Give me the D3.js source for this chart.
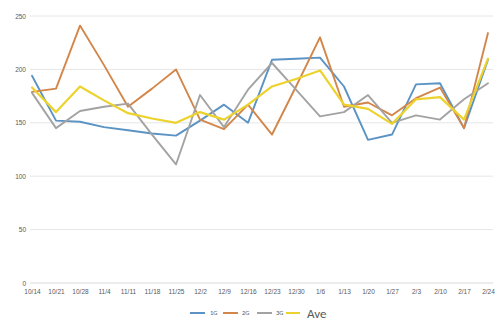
<!DOCTYPE html>
<html>
<head>
<meta charset="utf-8">
<script src="https://cdn.jsdelivr.net/npm/d3@7"></script>
<style>
  html, body { margin: 0; padding: 0; background: #fff; }
  svg { display: block; font-family: Calibri, Carlito, "Liberation Sans", "Open Sans", sans-serif; }
</style>
</head>
<body>
<svg id="chart" width="500" height="326"></svg>
<script>
// Weekly dates shown on the category axis
const categories = ["10/14","10/21","10/28","11/4","11/11","11/18","11/25","12/2","12/9","12/16",
                    "12/23","12/30","1/6","1/13","1/20","1/27","2/3","2/10","2/17","2/24"];
const yTicks = [0, 50, 100, 150, 200, 250];

const series1G  = [194,152,151,146,143,140,138,152,167,150,209,210,211,184,134,139,186,187,145,209];
const series2G  = [179,182,241,204,165,182,200,153,144,167,139,184,230,165,169,157,173,183,145,234];
const series3G  = [178,145,161,165,168,139,111,176,146,181,206,181,156,160,176,150,157,153,172,187];
const seriesAve = [183,160,184,171,159,154,150,160,153,167,184,191,199,167,163,149,172,174,153,210];

const seriesNames  = ["1G", "2G", "3G", "Ave"];
const seriesColors = ["#5b93c4", "#d3864a", "#a3a3a3", "#ecd22c"];
const seriesData   = [series1G, series2G, series3G, seriesAve];

const svg = d3.select("#chart");

const x = d3.scalePoint().domain(categories).range([32, 488]);
const y = d3.scaleLinear().domain([0, 250]).range([283, 16]);

// Horizontal gridlines
svg.append("g")
  .selectAll("line")
  .data(yTicks)
  .join("line")
  .attr("x1", 30).attr("x2", 493)
  .attr("y1", d => y(d)).attr("y2", d => y(d))
  .attr("stroke", d => d === 0 ? "#d9d9d9" : "#e6e6e6")
  .attr("stroke-width", 1);

// Y axis labels
const yAxis = d3.axisLeft(y).tickValues(yTicks).tickSize(0).tickPadding(0);
svg.append("g")
  .attr("transform", "translate(26,0)")
  .call(yAxis)
  .call(g => g.select(".domain").remove())
  .call(g => g.selectAll("text")
    .attr("fill", "#595959")
    .attr("font-size", "6.5px")
    .attr("font-family", "inherit"));

// X axis labels
const xAxis = d3.axisBottom(x).tickSize(0).tickPadding(0);
svg.append("g")
  .attr("transform", "translate(0,289)")
  .call(xAxis)
  .call(g => g.select(".domain").remove())
  .call(g => g.selectAll("text")
    .attr("fill", "#595959")
    .attr("font-size", "6.5px")
    .attr("font-family", "inherit"));

// Series lines
const line = d3.line()
  .x((d, i) => x(categories[i]))
  .y(d => y(d));

svg.append("g")
  .selectAll("path")
  .data(seriesData)
  .join("path")
  .attr("d", d => line(d))
  .attr("fill", "none")
  .attr("stroke", (d, i) => seriesColors[i])
  .attr("stroke-width", (d, i) => i === 3 ? 2.2 : 1.9)
  .attr("stroke-linejoin", "round")
  .attr("stroke-linecap", "round");

// Legend
const legendItems = [
  { name: "1G",  x1: 190, x2: 205, tx: 210, size: 6.5 },
  { name: "2G",  x1: 223, x2: 238, tx: 242, size: 6.5 },
  { name: "3G",  x1: 257, x2: 272, tx: 276, size: 6.5 },
  { name: "Ave", x1: 286, x2: 300, tx: 307, size: 13 }
];
const legend = svg.append("g");
legendItems.forEach((it, i) => {
  legend.append("line")
    .attr("x1", it.x1).attr("x2", it.x2)
    .attr("y1", 313).attr("y2", 313)
    .attr("stroke", seriesColors[i])
    .attr("stroke-width", 2);
  legend.append("text")
    .attr("x", it.tx).attr("y", 313)
    .attr("dy", "0.35em")
    .attr("fill", "#595959")
    .attr("font-size", it.size + "px")
    .text(seriesNames[i]);
});
</script>
</body>
</html>
